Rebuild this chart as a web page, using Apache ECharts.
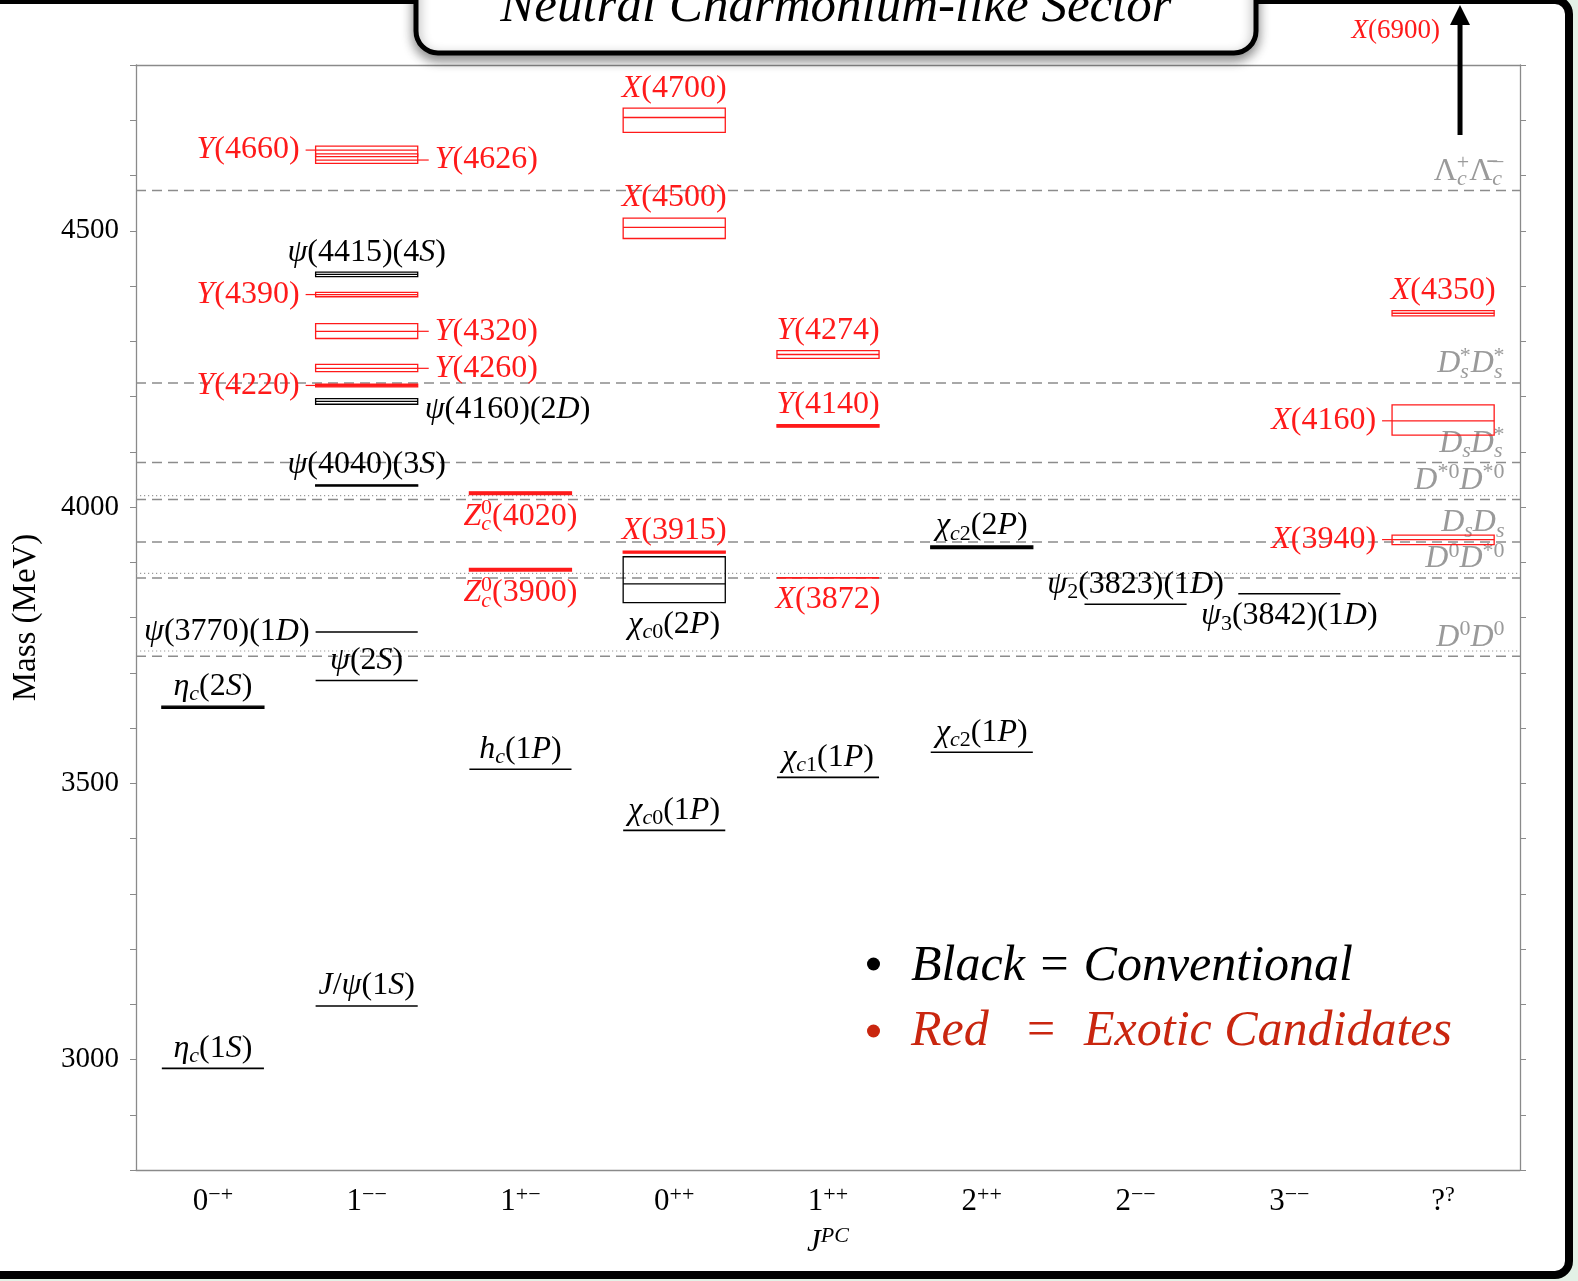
<!DOCTYPE html>
<html>
<head>
<meta charset="utf-8">
<script src="https://cdn.jsdelivr.net/npm/echarts@6/dist/echarts.min.js"></script>
<style>
  html, body { margin: 0; padding: 0; background: #e3f1e6; }
  #chart { width: 1578px; height: 1281px; }
</style>
</head>
<body>
<div id="chart"></div>
<script>
const F = "'Liberation Serif', 'Times New Roman', serif";
const RED = '#ff1a1a';

// J^PC columns
const categories = ['0-+', '1--', '1+-', '0++', '1++', '2++', '2--', '3--', '??'];
const categoryLabels = ['{n|0}{s|−+}', '{n|1}{s|−−}', '{n|1}{s|+−}', '{n|0}{s|++}', '{n|1}{s|++}',
                        '{n|2}{s|++}', '{n|2}{s|−−}', '{n|3}{s|−−}', '{n|?}{s|?}'];
const yTickLabels = [3000, 3500, 4000, 4500];

// charmonium(-like) states: name, column, mass and uncertainty band (MeV)
const stateNames = [
  '{i|η}{isb|c}(1{i|S})', '{i|η}{isb|c}(2{i|S})',
  '{i|J}/{i|ψ}(1{i|S})', '{i|ψ}(2{i|S})', '{i|ψ}(3770)(1{i|D})', '{i|ψ}(4040)(3{i|S})',
  '{i|ψ}(4160)(2{i|D})', '{i|Y}(4220)', '{i|Y}(4260)', '{i|Y}(4320)', '{i|Y}(4390)',
  '{i|ψ}(4415)(4{i|S})', '{i|Y}(4660)', '{i|Y}(4626)',
  '{i|h}{isb|c}(1{i|P})', '{i|Z}{isb|c}{spc|0}(3900)', '{i|Z}{isb|c}{spc|0}(4020)',
  '{i|χ}{isb|c}{sb|0}(1{i|P})', '{i|χ}{isb|c}{sb|0}(2{i|P})', '{i|X}(3915)', '{i|X}(4500)', '{i|X}(4700)',
  '{i|χ}{isb|c}{sb|1}(1{i|P})', '{i|X}(3872)', '{i|Y}(4140)', '{i|Y}(4274)',
  '{i|χ}{isb|c}{sb|2}(1{i|P})', '{i|χ}{isb|c}{sb|2}(2{i|P})',
  '{i|ψ}{sb|2}(3823)(1{i|D})',
  '{i|ψ}{sb|3}(3842)(1{i|D})',
  '{i|X}(3940)', '{i|X}(4160)', '{i|X}(4350)'
];
const stateColumn = [0, 0, 1, 1, 1, 1, 1, 1, 1, 1, 1, 1, 1, 1, 2, 2, 2, 3, 3, 3, 3, 3, 4, 4, 4, 4, 5, 5, 6, 7, 8, 8, 8];
const stateMass = [2983.9, 3637.5, 3096.9, 3686.1, 3773.7, 4039, 4191, 4220, 4251, 4318, 4384.5, 4421, 4646, 4628,
                   3525.4, 3886.5, 4025, 3414.7, 3861, 3918.4, 4506, 4705, 3510.7, 3871.7, 4146.8, 4276,
                   3556.2, 3927, 3824, 3843, 3941, 4156, 4350.7];
const stateErrUp = [0, 2, 0, 0, 0, 1.2, 5, 2.5, 7, 14, 4, 4, 7, 11, 0, 2.5, 2.5, 0, 49, 2, 17, 17, 0, 0, 2.5, 7,
                    0, 2.5, 0, 0, 8, 29, 4.8];
const stateErrDown = [0, 2, 0, 0, 0, 1.2, 5, 2.5, 6, 13, 4, 4, 12, 6, 0, 2.5, 2.5, 0, 34, 2, 20, 27, 0, 0, 2.5, 7,
                      0, 2.5, 0, 0, 9, 26, 4.8];
const stateExotic = [0, 0, 0, 0, 0, 0, 0, 1, 1, 1, 1, 0, 1, 1, 0, 1, 1, 0, 0, 1, 1, 1, 0, 1, 1, 1, 0, 0, 0, 0, 1, 1, 1];

// state far above the mass range
const offScaleNames = ['{i|X}(6900)'];
const offScaleColumn = [8];
const offScaleMass = [6900];

// open-charm thresholds (MeV): neutral pairs labelled, charged partners dotted
const thresholdNames = [
  'Λ{isb|c}{spc|+}Λ̄{isb|c}{spc|−}',
  '{i|D}{isb|s}{sps|*}{i|D}{isb|s}{sps|*}',
  '{i|D}{isb|s}{i|D}{isb|s}{sps|*}',
  '{i|D}{sp|*0}{i|D}{sp|*0}',
  '{i|D}{isb|s}{i|D}{isb|s}',
  '{i|D}{sp|0}{i|D}{sp|*0}',
  '{i|D}{sp|0}{i|D}{sp|0}'
];
const thresholdMass = [4572.9, 4224.4, 4080.5, 4013.7, 3936.7, 3871.7, 3729.7];
const chargedThresholdMass = [4020.5, 3879.9, 3739.3];

// ---------- drawing ----------
const labelPlacement = ['top', 'top', 'top', 'top', 'left', 'top', 'rightLow', 'leftTick', 'rightTick', 'rightTick',
  'leftTick', 'top', 'leftTick', 'rightTick', 'top', 'bottom', 'bottom', 'top', 'bottom', 'top', 'top', 'top',
  'top', 'bottom', 'top', 'top', 'top', 'top', 'top', 'bottom', 'leftTick', 'leftTick', 'top'];

const LABEL_SIZE = 32, LABEL_LH = 38;

function makeRich(size, lh) {
  const s = Math.round(size * 0.7);
  const mk = o => Object.assign({ fontFamily: F }, o);
  return {
    i: mk({ fontSize: size, lineHeight: lh, fontStyle: 'italic' }),
    sb: mk({ fontSize: s, lineHeight: s, verticalAlign: 'bottom' }),
    isb: mk({ fontSize: s, lineHeight: s, verticalAlign: 'bottom', fontStyle: 'italic' }),
    sp: mk({ fontSize: s, lineHeight: s, verticalAlign: 'top' }),
    spc: mk({ fontSize: s, lineHeight: s, verticalAlign: 'top', padding: [0, 0, 0, -Math.round(s * 0.44)] }),
    sps: mk({ fontSize: s, lineHeight: s, verticalAlign: 'top', padding: [0, 0, 0, -Math.round(s * 0.39)] })
  };
}
const RICH = makeRich(LABEL_SIZE, LABEL_LH);
const RICH_SMALL = makeRich(27, 32);

function richText(x, y, text, fill, align, rich, size, lh) {
  return {
    type: 'text', x: x, y: y,
    style: { text: text, rich: rich, fill: fill, fontSize: size, fontFamily: F, lineHeight: lh,
             align: align, verticalAlign: 'middle' }
  };
}

function renderState(params, api) {
  const k = api.value(4);
  const col = api.value(0), m = api.value(1), up = api.value(2), dn = api.value(3);
  const c = api.coord([col, m]);
  const half = api.size([1, 0])[0] * 0.332;
  const x0 = c[0] - half, x1 = c[0] + half;
  const yT = api.coord([col, m + up])[1];
  const yB = api.coord([col, m - dn])[1];
  const color = stateExotic[k] ? RED : '#000';
  const ch = [];
  if (up + dn === 0) {
    ch.push({ type: 'line', shape: { x1: x0, y1: c[1], x2: x1, y2: c[1] }, style: { stroke: color, lineWidth: 1.6 } });
  } else if (yB - yT < 4) {
    ch.push({ type: 'rect', shape: { x: x0, y: yT, width: x1 - x0, height: yB - yT },
              style: { fill: color, stroke: color, lineWidth: 1.2 } });
  } else {
    ch.push({ type: 'rect', shape: { x: x0, y: yT, width: x1 - x0, height: yB - yT },
              style: { fill: 'none', stroke: color, lineWidth: 1.3 } });
    ch.push({ type: 'line', shape: { x1: x0, y1: c[1], x2: x1, y2: c[1] }, style: { stroke: color, lineWidth: 1.3 } });
  }
  const p = labelPlacement[k];
  let lx, ly, align;
  if (p === 'top') { lx = c[0]; ly = yT - 20; align = 'center'; }
  else if (p === 'bottom') { lx = c[0]; ly = yB + 22; align = 'center'; }
  else if (p === 'left') { lx = x0 - 6; ly = c[1]; align = 'right'; }
  else if (p === 'leftTick') {
    ch.push({ type: 'line', shape: { x1: x0 - 10, y1: c[1], x2: x0, y2: c[1] }, style: { stroke: color, lineWidth: 1.2 } });
    lx = x0 - 16; ly = c[1]; align = 'right';
  } else if (p === 'rightTick') {
    ch.push({ type: 'line', shape: { x1: x1, y1: c[1], x2: x1 + 11, y2: c[1] }, style: { stroke: color, lineWidth: 1.2 } });
    lx = x1 + 17; ly = c[1]; align = 'left';
  } else { lx = x1 + 7; ly = c[1] + 8; align = 'left'; }
  ch.push(richText(lx, ly, stateNames[k], color, align, RICH, LABEL_SIZE, LABEL_LH));
  return { type: 'group', children: ch };
}

function renderThreshold(params, api) {
  const cs = params.coordSys;
  const y = api.coord([0, api.value(1)])[1];
  const dotted = api.value(2) === 1;
  const k = api.value(3);
  const ch = [{
    type: 'line', shape: { x1: cs.x, y1: y, x2: cs.x + cs.width, y2: y },
    style: dotted ? { stroke: '#9a9a9a', lineWidth: 1.1, lineDash: [1.2, 2.8] }
                  : { stroke: '#8c8c8c', lineWidth: 1.5, lineDash: [10, 6] }
  }];
  if (k >= 0) ch.push(richText(cs.x + cs.width - 15.5, y - 19, thresholdNames[k], '#9a9a9a', 'right', RICH, LABEL_SIZE, LABEL_LH));
  return { type: 'group', children: ch };
}

function renderOffScale(params, api) {
  const cs = params.coordSys;
  const k = api.value(2);
  const x = api.coord([api.value(0), 4000])[0] + api.size([1, 0])[0] * 0.11;
  const yTip = cs.y - 60, yBase = cs.y + 70;
  return {
    type: 'group', children: [
      { type: 'line', shape: { x1: x, y1: yBase, x2: x, y2: yTip + 16 }, style: { stroke: '#000', lineWidth: 5 } },
      { type: 'polygon', shape: { points: [[x - 10, yTip + 20], [x + 10, yTip + 20], [x, yTip]] }, style: { fill: '#000' } },
      richText(x - 20, cs.y - 34, offScaleNames[k], RED, 'right', RICH_SMALL, 27, 32)
    ]
  };
}

const stateData = stateNames.map((_, k) => [stateColumn[k], stateMass[k], stateErrUp[k], stateErrDown[k], k]);
const thresholdData = thresholdMass.map((m, k) => [0, m, 0, k])
  .concat(chargedThresholdMass.map(m => [0, m, 1, -1]));
const offScaleData = offScaleNames.map((_, k) => [offScaleColumn[k], offScaleMass[k], k]);

const AXIS_GREY = '#8a8a8a';
const tickRich = {
  n: { fontFamily: F, fontSize: 31, lineHeight: 36, color: '#000' },
  s: { fontFamily: F, fontSize: 22, lineHeight: 22, verticalAlign: 'top', color: '#000' }
};

const option = {
  backgroundColor: '#e3f1e6',
  animation: false,
  grid: { left: 136, right: 58, top: 65, bottom: 111 },
  xAxis: [{
    type: 'category', data: categories, position: 'bottom',
    axisLine: { lineStyle: { color: AXIS_GREY, width: 1.3 } },
    axisTick: { alignWithLabel: true, length: 6, lineStyle: { color: AXIS_GREY } },
    axisLabel: { margin: 14, formatter: (v, i) => categoryLabels[i], rich: tickRich },
    name: '{j|J}{s|PC}', nameLocation: 'middle', nameGap: 55,
    nameTextStyle: { rich: {
      j: { fontFamily: F, fontSize: 31, lineHeight: 36, fontStyle: 'italic', color: '#000' },
      s: { fontFamily: F, fontSize: 22, lineHeight: 22, verticalAlign: 'top', fontStyle: 'italic', color: '#000' }
    } }
  }, {
    type: 'category', data: categories, position: 'top',
    axisLine: { lineStyle: { color: AXIS_GREY, width: 1.3 } },
    axisTick: { alignWithLabel: true, length: 6, lineStyle: { color: AXIS_GREY } },
    axisLabel: { show: false }
  }],
  yAxis: [{
    type: 'value', min: 2800, max: 4800, interval: 100,
    axisLine: { show: true, lineStyle: { color: AXIS_GREY, width: 1.3 } },
    axisTick: { show: true, length: 6, lineStyle: { color: AXIS_GREY } },
    splitLine: { show: false },
    axisLabel: { margin: 17, color: '#000', fontFamily: F, fontSize: 29,
                 formatter: v => (yTickLabels.indexOf(v) >= 0 ? String(v) : '') },
    name: 'Mass (MeV)', nameLocation: 'middle', nameGap: 93, nameRotate: 90,
    nameTextStyle: { fontFamily: F, fontSize: 33, color: '#000' }
  }, {
    type: 'value', min: 2800, max: 4800, interval: 100, position: 'right',
    axisLine: { show: true, lineStyle: { color: AXIS_GREY, width: 1.3 } },
    axisTick: { show: true, length: 6, lineStyle: { color: AXIS_GREY } },
    splitLine: { show: false },
    axisLabel: { show: false }
  }],
  series: [
    { type: 'custom', z: 1, renderItem: renderThreshold, data: thresholdData, encode: { x: 0, y: 1 }, silent: true },
    { type: 'custom', z: 3, renderItem: renderState, data: stateData, encode: { x: 0, y: 1 }, silent: true },
    { type: 'custom', z: 4, renderItem: renderOffScale, data: offScaleData, encode: { x: 0, y: 1 }, silent: true, clip: false }
  ],
  graphic: [
    { type: 'rect', z: -10, silent: true, shape: { x: -40, y: 0, width: 1609, height: 1275, r: 14 },
      style: { fill: '#fff', stroke: '#000', lineWidth: 8 } },
    { type: 'rect', z: 50, silent: true, shape: { x: 416, y: -40, width: 840, height: 93, r: 22 },
      style: { fill: '#fff', stroke: '#000', lineWidth: 5, shadowBlur: 12, shadowOffsetY: 5,
               shadowColor: 'rgba(0,0,0,0.45)' } },
    { type: 'text', z: 51, silent: true, x: 836, y: 8,
      style: { text: 'Neutral Charmonium-like Sector', fontFamily: F, fontStyle: 'italic', fontSize: 51,
               fill: '#000', align: 'center', verticalAlign: 'middle' } },
    { type: 'circle', z: 51, silent: true, shape: { cx: 873.5, cy: 964, r: 6.5 }, style: { fill: '#000' } },
    { type: 'text', z: 51, silent: true, x: 911, y: 967,
      style: { text: 'Black = Conventional', fontFamily: F, fontStyle: 'italic', fontSize: 50,
               fill: '#000', align: 'left', verticalAlign: 'middle' } },
    { type: 'circle', z: 51, silent: true, shape: { cx: 873.5, cy: 1031, r: 6.5 }, style: { fill: '#c9260f' } },
    { type: 'text', z: 51, silent: true, x: 911, y: 1032,
      style: { text: 'Red', fontFamily: F, fontStyle: 'italic', fontSize: 50, fill: '#c9260f',
               align: 'left', verticalAlign: 'middle' } },
    { type: 'text', z: 51, silent: true, x: 1041, y: 1032,
      style: { text: '=', fontFamily: F, fontSize: 50, fill: '#c9260f', align: 'center', verticalAlign: 'middle' } },
    { type: 'text', z: 51, silent: true, x: 1084, y: 1032,
      style: { text: 'Exotic Candidates', fontFamily: F, fontStyle: 'italic', fontSize: 50, fill: '#c9260f',
               align: 'left', verticalAlign: 'middle' } }
  ]
};

const chart = echarts.init(document.getElementById('chart'), null, { renderer: 'canvas' });
chart.setOption(option);
</script>
</body>
</html>
